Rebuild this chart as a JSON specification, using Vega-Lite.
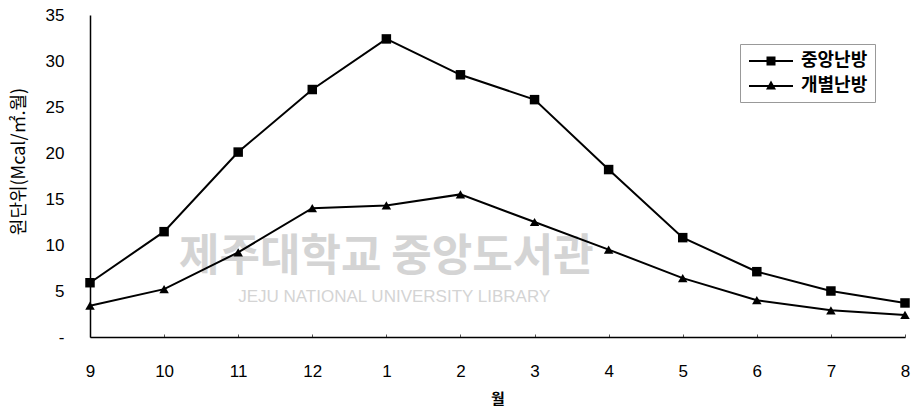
{
  "$schema": "https://vega.github.io/schema/vega-lite/v6.json",
  "autosize": {"type": "none"},
  "width": 815,
  "height": 322,
  "padding": {"left": 90, "top": 15, "right": 14, "bottom": 72},
  "background": "white",
  "config": {
    "view": {"stroke": null},
    "font": "Liberation Sans"
  },
  "data": {
    "values": [
      {"month": "9", "series": "중앙난방", "value": 5.9},
      {"month": "10", "series": "중앙난방", "value": 11.45},
      {"month": "11", "series": "중앙난방", "value": 20.1},
      {"month": "12", "series": "중앙난방", "value": 26.9},
      {"month": "1", "series": "중앙난방", "value": 32.4},
      {"month": "2", "series": "중앙난방", "value": 28.5},
      {"month": "3", "series": "중앙난방", "value": 25.8},
      {"month": "4", "series": "중앙난방", "value": 18.2},
      {"month": "5", "series": "중앙난방", "value": 10.8},
      {"month": "6", "series": "중앙난방", "value": 7.1},
      {"month": "7", "series": "중앙난방", "value": 5.0},
      {"month": "8", "series": "중앙난방", "value": 3.7},
      {"month": "9", "series": "개별난방", "value": 3.4},
      {"month": "10", "series": "개별난방", "value": 5.2},
      {"month": "11", "series": "개별난방", "value": 9.2},
      {"month": "12", "series": "개별난방", "value": 14.0},
      {"month": "1", "series": "개별난방", "value": 14.3},
      {"month": "2", "series": "개별난방", "value": 15.5},
      {"month": "3", "series": "개별난방", "value": 12.5},
      {"month": "4", "series": "개별난방", "value": 9.5},
      {"month": "5", "series": "개별난방", "value": 6.4},
      {"month": "6", "series": "개별난방", "value": 4.0},
      {"month": "7", "series": "개별난방", "value": 2.9},
      {"month": "8", "series": "개별난방", "value": 2.4}
    ]
  },
  "encoding": {
    "x": {
      "field": "month",
      "type": "ordinal",
      "sort": ["9", "10", "11", "12", "1", "2", "3", "4", "5", "6", "7", "8"],
      "scale": {"type": "point", "padding": 0},
      "axis": {
        "title": "월",
        "titleFont": "Noto Sans CJK KR",
        "titleFontWeight": "bold",
        "titleFontSize": 15,
        "titlePadding": 12,
        "labelAngle": 0,
        "labelFontSize": 17,
        "labelColor": "black",
        "labelPadding": 29,
        "domainColor": "black",
        "domainWidth": 1.5,
        "tickSize": -3,
        "tickColor": "#555",
        "grid": false
      }
    },
    "y": {
      "field": "value",
      "type": "quantitative",
      "scale": {"domain": [0, 35], "nice": false},
      "axis": {
        "title": "원단위(Mcal/㎡.월)",
        "titleFont": "Noto Sans CJK KR",
        "titleFontWeight": "normal",
        "titleFontSize": 18,
        "titleColor": "black",
        "titlePadding": 17,
        "titleY": 146,
        "values": [0, 5, 10, 15, 20, 25, 30, 35],
        "labelExpr": "datum.value == 0 ? '-' : datum.label",
        "labelFontSize": 17,
        "labelColor": "black",
        "labelPadding": 26,
        "ticks": false,
        "domainColor": "black",
        "domainWidth": 1.5,
        "grid": false
      }
    }
  },
  "layer": [
    {
      "transform": [{"filter": "datum.month == '9' && datum.series == '중앙난방'"}],
      "mark": {"type": "text", "font": "Noto Sans CJK KR", "fontSize": 44, "fontWeight": "bold", "color": "#d4d4d4", "align": "center"},
      "encoding": {
        "x": {"datum": "1"},
        "y": {"datum": 8.6},
        "text": {"value": "제주대학교 중앙도서관"}
      }
    },
    {
      "transform": [{"filter": "datum.month == '9' && datum.series == '중앙난방'"}],
      "mark": {"type": "text", "font": "Liberation Sans", "fontSize": 17, "color": "#d4d4d4", "align": "left"},
      "encoding": {
        "x": {"datum": "11"},
        "y": {"datum": 4.4},
        "text": {"value": "JEJU NATIONAL UNIVERSITY LIBRARY"}
      }
    },
    {
      "mark": {"type": "line", "color": "black", "strokeWidth": 2},
      "encoding": {"detail": {"field": "series"}}
    },
    {
      "mark": {"type": "point", "filled": true, "color": "black", "opacity": 1, "size": 90},
      "encoding": {
        "shape": {
          "field": "series",
          "type": "nominal",
          "scale": {"domain": ["중앙난방", "개별난방"], "range": ["square", "triangle-up"]},
          "legend": null
        }
      }
    },
    {
      "mark": {"type": "point", "filled": true, "color": "black", "opacity": 0},
      "encoding": {
        "shape": {
          "field": "series",
          "type": "nominal",
          "scale": {"domain": ["중앙난방", "개별난방"], "range": ["M-2.2,-0.09H2.2V0.09H-2.2ZM-0.45,-0.45H0.45V0.45H-0.45Z", "M-2.2,-0.09H2.2V0.09H-2.2ZM0,-0.55L0.5,0.35H-0.5Z"]},
          "legend": {
            "title": null,
            "orient": "none",
            "legendX": 650,
            "legendY": 29,
            "symbolSize": 400,
            "symbolOffset": 14,
            "symbolOpacity": 1,
            "symbolFillColor": "black",
            "symbolStrokeColor": "black",
            "symbolStrokeWidth": 0,
            "labelFont": "Noto Sans CJK KR",
            "labelFontSize": 18,
            "labelFontWeight": "bold",
            "labelColor": "black",
            "labelOffset": 20,
            "rowPadding": 6,
            "padding": 7,
            "strokeColor": "#999"
          }
        }
      }
    }
  ],
  "resolve": {"scale": {"shape": "independent"}, "legend": {"shape": "independent"}}
}
